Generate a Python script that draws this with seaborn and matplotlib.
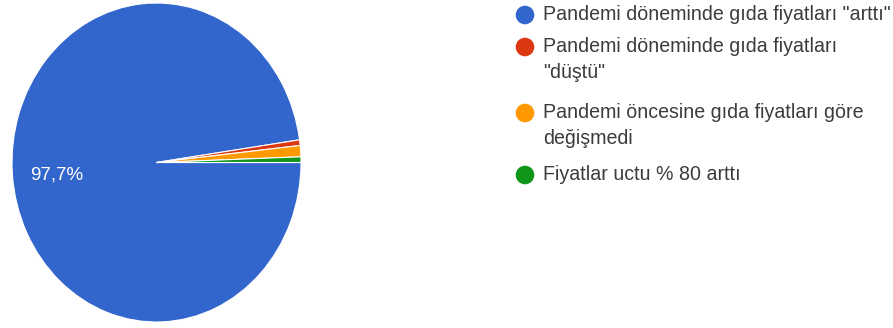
import matplotlib
matplotlib.use("Agg")
import matplotlib.pyplot as plt
import seaborn as sns

sns.set_theme(style="white")
plt.rcParams['font.family'] = ['Liberation Sans', 'DejaVu Sans']

categories = ['Pandemi döneminde gıda fiyatları "arttı"',
              'Pandemi döneminde gıda fiyatları\n"düştü"',
              'Pandemi öncesine gıda fiyatları göre\ndeğişmedi',
              'Fiyatlar uctu % 80 arttı']
responses = [172, 1, 2, 1]
colors = ['#3366CC', '#DC3912', '#FF9900', '#109618']

W, H = 893, 328
fig = plt.figure(figsize=(W / 100, H / 100), dpi=100)
fig.patch.set_facecolor('white')

ax = fig.add_axes([12 / W, 6 / H, 289 / W, 319 / H])
wedges, texts, autotexts = ax.pie(
    responses, colors=colors, startangle=0, counterclock=False,
    autopct=lambda p: (f'{p:.1f}%'.replace('.', ',') if p > 5 else ''),
    pctdistance=0.69,
    wedgeprops=dict(edgecolor='white', linewidth=0.8),
    textprops=dict(color='white', fontsize=13.5))
for t in autotexts:
    x, y = t.get_position()
    t.set_position((x, y - 0.03))
ax.set_aspect('auto')
ax.set_xlim(-1, 1)
ax.set_ylim(-1, 1)
ax.axis('off')

# legend (drawn in a pixel-coordinate overlay axes)
lg = fig.add_axes([0, 0, 1, 1])
lg.set_xlim(0, W)
lg.set_ylim(H, 0)
lg.axis('off')
lg.patch.set_alpha(0)
line_h = 25.5
starts = [15, 47, 113, 175]
for cat, col, y0 in zip(categories, colors, starts):
    lg.scatter([525], [y0], s=180, color=col, edgecolors='none')
    for i, line in enumerate(cat.split('\n')):
        lg.text(543, y0 + i * line_h, line, va='center', ha='left',
                fontsize=14.1, color='#3c3c3c')

fig.savefig('out.png', dpi=100, facecolor='white')
